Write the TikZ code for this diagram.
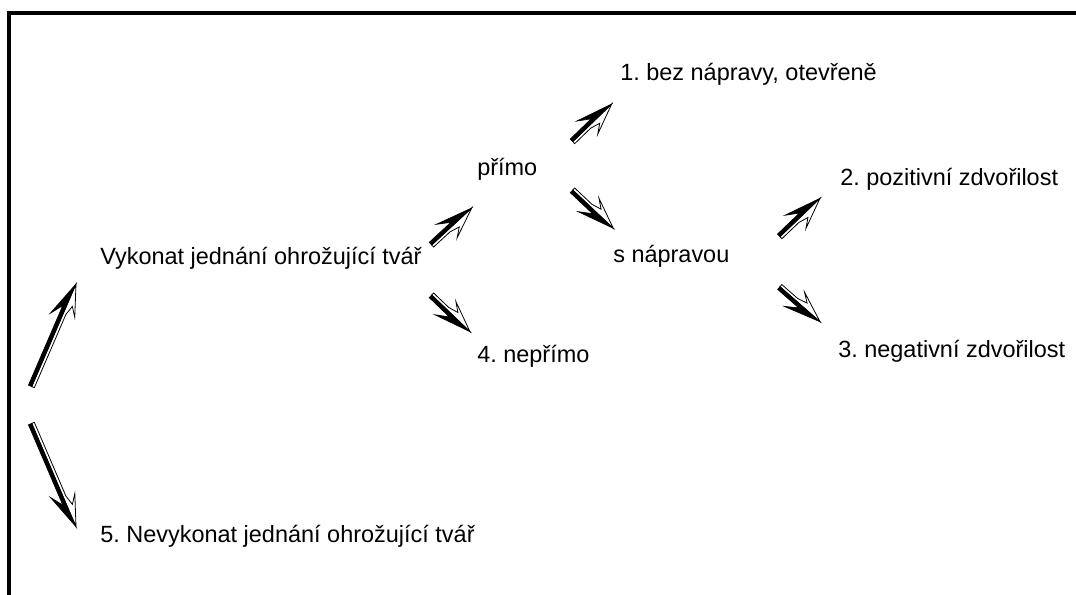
\documentclass[tikz,border=0pt]{standalone}
\usepackage{fontspec}
\setmainfont{Liberation Sans}
\usetikzlibrary{calc}
\frenchspacing
\tikzset{
  arrblack/.style={fill=black,draw=black,line width=0.5pt,line join=miter},
  arrwhite/.style={fill=white,draw=black,line width=0.6pt,line join=miter},
  lbl/.style={anchor=base west,inner sep=0pt,font=\fontsize{17.6}{20}\selectfont},
  frameline/.style={line width=2.4pt}
}
\newcommand\fancyarr[3]{%
  \path let \p1=($(#2)-(#1)$) in \pgfextra{%
    \pgfmathsetmacro\FAtmpa{atan2(\y1,\x1)}%
    \pgfmathsetmacro\FAtmpl{veclen(\x1,\y1)/0.75}%
    \xdef\FAang{\FAtmpa}\xdef\FAlen{\FAtmpl}};
  \begin{scope}[shift={(#2)},rotate=\FAang,x=0.75pt,y=0.75pt,yscale=#3]
    \path[arrwhite] (0,0) -- (-31,-12) -- (-22,-5.5) -- (-32,-2.8) -- (-\FAlen,-2.8) -- (-\FAlen,0) -- cycle;
    \path[arrblack] (0,0) -- (-37,12) -- (-25,3.6) -- (-\FAlen,3.6) -- (-\FAlen,0) -- cycle;
  \end{scope}}
\begin{document}
\begin{tikzpicture}[x=0.75pt,y=-0.75pt]
  \useasboundingbox (0,0) rectangle (1076,595);
  \draw[frameline] (9,595) -- (9,13) -- (1076,13);
  % labels
  \node[lbl] (vyk) at (100,265) {Vykonat jednání ohrožující tvář};
  \node[lbl] (primo) at (477,176) {přímo};
  \node[lbl] (bez) at (620,81) {1. bez nápravy, otevřeně};
  \node[lbl] (snap) at (613,263) {s nápravou};
  \node[lbl] (poz) at (840,186) {2. pozitivní zdvořilost};
  \node[lbl] (neg) at (838,358) {3. negativní zdvořilost};
  \node[lbl] (nep) at (477,363) {4. nepřímo};
  \node[lbl] (nevyk) at (100,543) {5. Nevykonat jednání ohrožující tvář};
  % arrow end points
  \coordinate (a1s) at (31.7,386.7);  \coordinate (a1e) at (76,284);
  \coordinate (a2s) at (31.7,423.3);  \coordinate (a2e) at (76,526.7);
  \coordinate (a3s) at (431.7,245);   \coordinate (a3e) at (471.7,208);
  \coordinate (a4s) at (431.7,295);   \coordinate (a4e) at (470,331.7);
  \coordinate (a5s) at (572.7,141.7); \coordinate (a5e) at (611.7,104);
  \coordinate (a6s) at (572.7,190);   \coordinate (a6e) at (613.3,228.3);
  \coordinate (a7s) at (780,236.7);   \coordinate (a7e) at (820,198.3);
  \coordinate (a8s) at (780,286.7);   \coordinate (a8e) at (820,321.7);
  \fancyarr{a1s}{a1e}{1}
  \fancyarr{a2s}{a2e}{-1}
  \fancyarr{a3s}{a3e}{1}
  \fancyarr{a4s}{a4e}{-1}
  \fancyarr{a5s}{a5e}{1}
  \fancyarr{a6s}{a6e}{-1}
  \fancyarr{a7s}{a7e}{1}
  \fancyarr{a8s}{a8e}{-1}
\end{tikzpicture}
\end{document}
